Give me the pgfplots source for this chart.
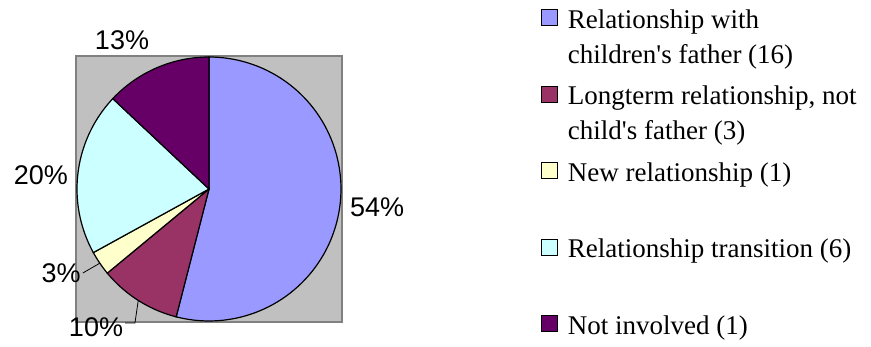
\documentclass[border=0pt]{standalone}
\usepackage{pgfplots}
\usepackage{pgfplotstable}
\pgfplotsset{compat=1.18}
\usepackage{fontspec}
\setmainfont{Liberation Serif}
\newfontfamily\arial{Liberation Sans}

\definecolor{c1}{HTML}{9999FF}
\definecolor{c2}{HTML}{993366}
\definecolor{c3}{HTML}{FFFFCC}
\definecolor{c4}{HTML}{CCFFFF}
\definecolor{c5}{HTML}{660066}
\definecolor{plotbg}{HTML}{C0C0C0}
\definecolor{plotframe}{HTML}{808080}

% shares of the pie, in percent, clockwise from 12 o'clock
\pgfplotstableread{
share
54
10
3
20
13
}\pietable

\pgfplotstablegetelem{0}{share}\of\pietable \let\sA\pgfplotsretval
\pgfplotstablegetelem{1}{share}\of\pietable \let\sB\pgfplotsretval
\pgfplotstablegetelem{2}{share}\of\pietable \let\sC\pgfplotsretval
\pgfplotstablegetelem{3}{share}\of\pietable \let\sD\pgfplotsretval
\pgfplotstablegetelem{4}{share}\of\pietable \let\sE\pgfplotsretval

% slice boundaries (degrees)
\pgfmathsetmacro\aA{90}
\pgfmathsetmacro\aB{\aA-3.6*\sA}
\pgfmathsetmacro\aC{\aB-3.6*\sB}
\pgfmathsetmacro\aD{\aC-3.6*\sC}
\pgfmathsetmacro\aE{\aD-3.6*\sD}
\pgfmathsetmacro\aF{\aE-3.6*\sE}
% mid angles of the two small slices with leader lines
\pgfmathsetmacro\mB{(\aB+\aC)/2}
\pgfmathsetmacro\mC{(\aC+\aD)/2}
\pgfmathsetmacro\mBx{cos(\mB)}\pgfmathsetmacro\mBy{sin(\mB)}
\pgfmathsetmacro\mCx{cos(\mC)}\pgfmathsetmacro\mCy{sin(\mC)}

% every legend row gets the same height, so the keys sit at a fixed pitch
\newcommand\legrow[1]{\raisebox{29pt}[20pt][57.4pt]{#1}}
\newcommand\apos{\textquotesingle}

\begin{document}
\begin{tikzpicture}
\useasboundingbox (0,0) rectangle (871pt,347pt);
\begin{axis}[
  at={(76pt,25pt)}, anchor=south west,
  scale only axis, width=266pt, height=266pt,
  xmin=-1.0076, xmax=1.0076, ymin=-1.0076, ymax=1.0076,
  xtick=\empty, ytick=\empty,
  axis background/.style={fill=plotbg},
  axis line style={draw=plotframe, line width=1.5pt},
  clip=false,
  legend image code/.code={
    \path[draw=none, fill=none] (0pt,-38pt) rectangle (16pt,38pt);
    \draw[#1, draw=black, line width=1pt] (0pt,22pt) rectangle (16pt,38pt);
  },
  legend cell align=left,
  legend style={
    at={(1.748,1.1756)}, anchor=north west,
    draw=none, fill=none, inner sep=0pt, outer sep=0pt,
    column sep=10pt, row sep=0pt,
    font=\fontsize{27}{35}\selectfont,
    nodes={inner sep=0pt},
  },
]
\addplot[fill=c1, draw=black, line width=1.2pt, domain=\aB:\aA, samples=90, variable=\t]
  ({cos(\t)},{sin(\t)}) -- (axis cs:0,0) -- cycle;
\addlegendentry{\legrow{\begin{tabular}[t]{@{}l@{}}Relationship with\\children\apos s father (16)\end{tabular}}}
\addplot[fill=c2, draw=black, line width=1.2pt, domain=\aC:\aB, samples=30, variable=\t]
  ({cos(\t)},{sin(\t)}) -- (axis cs:0,0) -- cycle;
\addlegendentry{\legrow{\begin{tabular}[t]{@{}l@{}}Longterm relationship, not\\child\apos s father (3)\end{tabular}}}
\addplot[fill=c3, draw=black, line width=1.2pt, domain=\aD:\aC, samples=12, variable=\t]
  ({cos(\t)},{sin(\t)}) -- (axis cs:0,0) -- cycle;
\addlegendentry{\legrow{New relationship (1)}}
\addplot[fill=c4, draw=black, line width=1.2pt, domain=\aE:\aD, samples=50, variable=\t]
  ({cos(\t)},{sin(\t)}) -- (axis cs:0,0) -- cycle;
\addlegendentry{\legrow{Relationship transition (6)}}
\addplot[fill=c5, draw=black, line width=1.2pt, domain=\aF:\aE, samples=40, variable=\t]
  ({cos(\t)},{sin(\t)}) -- (axis cs:0,0) -- cycle;
\addlegendentry{\legrow{Not involved (1)}}

% leader lines for the small slices
\addplot[forget plot, black, line width=0.8pt] coordinates {(-0.955,-0.636) (\mCx,\mCy)};
\addplot[forget plot, black, line width=0.8pt] coordinates {(-0.636,-1.015) (-0.561,-1.015) (\mBx,\mBy)};

% percentage labels
\begin{scope}[every node/.style={font=\arial\fontsize{27}{30}\selectfont, inner sep=0pt}]
\node at (axis cs:1.273,-0.136) {\sA\%};
\node at (axis cs:-0.856,-1.045) {\sB\%};
\node at (axis cs:-1.121,-0.636) {\sC\%};
\node at (axis cs:-1.273,0.106) {\sD\%};
\node at (axis cs:-0.659,1.129) {\sE\%};
\end{scope}
\end{axis}
\end{tikzpicture}
\end{document}
